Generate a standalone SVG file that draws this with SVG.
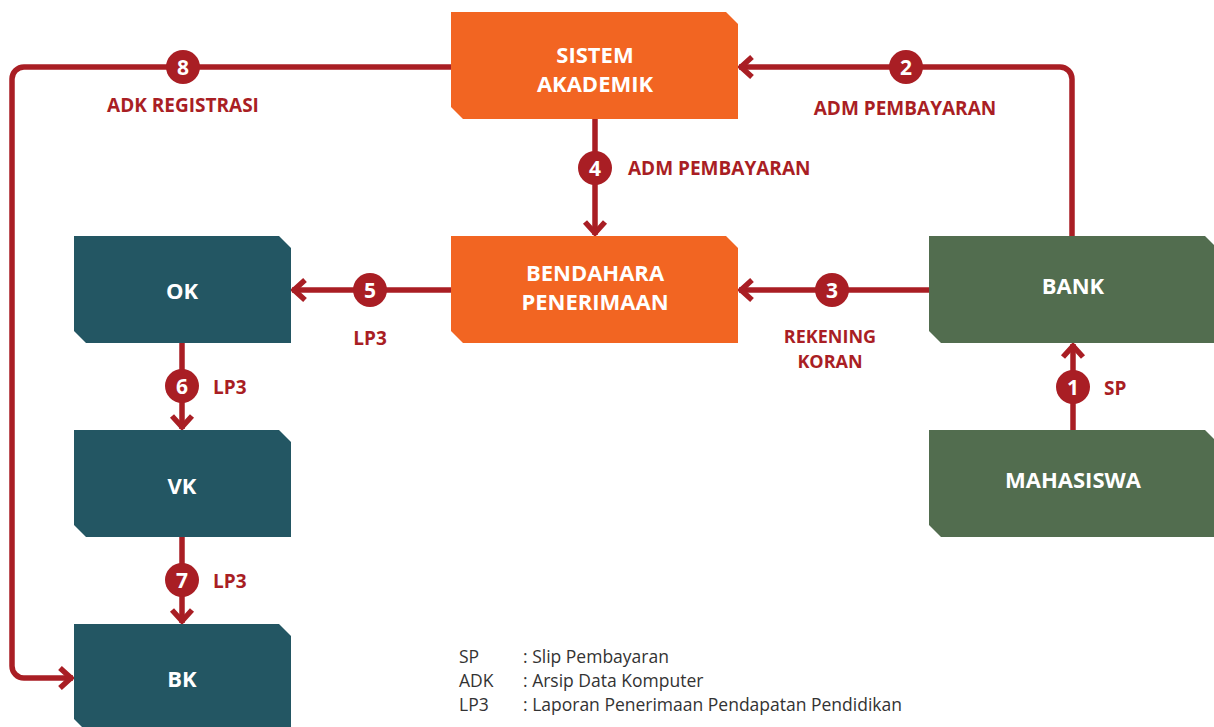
<svg xmlns="http://www.w3.org/2000/svg" width="1214" height="727" viewBox="0 0 1214 727">
  <style>
    .orange { fill: #f26522; }
    .teal { fill: #235663; }
    .green { fill: #526d4f; }
    .ntext { font-family: "Open Sans", "Noto Sans", sans-serif; font-weight: 700; font-size: 22px; fill: #ffffff; text-anchor: middle; }
    .wire { fill: none; stroke: #a91e24; stroke-width: 5.5; }
    .badge { fill: #a91e24; }
    .num { font-family: "Open Sans", "Noto Sans", sans-serif; font-weight: 700; font-size: 21px; fill: #ffffff; text-anchor: middle; }
    .lbl { font-family: "Open Sans", "Noto Sans", sans-serif; font-weight: 700; font-size: 19px; fill: #a91e24; }
    .lbl-sm { font-size: 18px; }
    .legend { font-family: "Open Sans", "Noto Sans", sans-serif; font-size: 17.5px; fill: #333333; }
  </style>
  <defs>
    <marker id="chev" markerUnits="userSpaceOnUse" markerWidth="30" markerHeight="30" viewBox="-20 -15 30 30" refX="0" refY="0" orient="auto" overflow="visible">
      <path d="M-13,-10 L-2,0 L-13,10" fill="none" stroke="#a91e24" stroke-width="5.5"/>
    </marker>
  </defs>

  <rect width="1214" height="727" fill="#ffffff"/>

  <!-- connectors -->
  <g id="connectors">
    <path class="wire" d="M451,67 H24 A12,12 0 0 0 12,79 V666 A12,12 0 0 0 24,678 H73" marker-end="url(#chev)"/>
    <path class="wire" d="M1072,236 V79 A12,12 0 0 0 1060,67 H739" marker-end="url(#chev)"/>
    <path class="wire" d="M595,119 V235" marker-end="url(#chev)"/>
    <path class="wire" d="M929,290 H739" marker-end="url(#chev)"/>
    <path class="wire" d="M451,290 H292" marker-end="url(#chev)"/>
    <path class="wire" d="M182,343 V429" marker-end="url(#chev)"/>
    <path class="wire" d="M182,537 V623" marker-end="url(#chev)"/>
    <path class="wire" d="M1073,430 V344" marker-end="url(#chev)"/>

    <circle class="badge" cx="183" cy="67" r="17"/><text class="num" x="183" y="74.5">8</text>
    <circle class="badge" cx="906" cy="67" r="17"/><text class="num" x="906" y="74.5">2</text>
    <circle class="badge" cx="595" cy="168" r="17"/><text class="num" x="595" y="175.5">4</text>
    <circle class="badge" cx="832" cy="290" r="17"/><text class="num" x="832" y="297.5">3</text>
    <circle class="badge" cx="370" cy="290" r="17"/><text class="num" x="370" y="297.5">5</text>
    <circle class="badge" cx="182" cy="386" r="17"/><text class="num" x="182" y="393.5">6</text>
    <circle class="badge" cx="182" cy="580" r="17"/><text class="num" x="182" y="587.5">7</text>
    <circle class="badge" cx="1073" cy="387" r="17"/><text class="num" x="1073" y="394.5">1</text>

    <text class="lbl" x="183" y="112" text-anchor="middle">ADK REGISTRASI</text>
    <text class="lbl" x="905" y="115" text-anchor="middle">ADM PEMBAYARAN</text>
    <text class="lbl" x="628" y="175">ADM PEMBAYARAN</text>
    <text class="lbl lbl-sm" x="830" y="343" text-anchor="middle">REKENING</text>
    <text class="lbl lbl-sm" x="830" y="368" text-anchor="middle">KORAN</text>
    <text class="lbl" x="370" y="345" text-anchor="middle">LP3</text>
    <text class="lbl" x="213" y="394">LP3</text>
    <text class="lbl" x="213" y="588">LP3</text>
    <text class="lbl" x="1104" y="395">SP</text>
  </g>

  <!-- nodes: boxes with clipped top-right and bottom-left corners -->
  <g id="sistem-akademik">
    <path class="orange" d="M451,12 H726 L738,24 V119 H463 L451,107 Z"/>
    <text class="ntext" x="595" y="63">SISTEM</text>
    <text class="ntext" x="595" y="92">AKADEMIK</text>
  </g>
  <g id="bendahara-penerimaan">
    <path class="orange" d="M451,236 H726 L738,248 V343 H463 L451,331 Z"/>
    <text class="ntext" x="595" y="281">BENDAHARA</text>
    <text class="ntext" x="595" y="310">PENERIMAAN</text>
  </g>
  <g id="bank">
    <path class="green" d="M929,236 H1205 L1217,248 V343 H941 L929,331 Z"/>
    <text class="ntext" x="1073" y="294">BANK</text>
  </g>
  <g id="mahasiswa">
    <path class="green" d="M929,430 H1205 L1217,442 V537 H941 L929,525 Z"/>
    <text class="ntext" x="1073" y="488">MAHASISWA</text>
  </g>
  <g id="ok">
    <path class="teal" d="M74,236 H279 L291,248 V343 H86 L74,331 Z"/>
    <text class="ntext" x="182" y="299">OK</text>
  </g>
  <g id="vk">
    <path class="teal" d="M74,430 H279 L291,442 V537 H86 L74,525 Z"/>
    <text class="ntext" x="182" y="494">VK</text>
  </g>
  <g id="bk">
    <path class="teal" d="M74,624 H279 L291,636 V731 H86 L74,719 Z"/>
    <text class="ntext" x="182" y="687">BK</text>
  </g>

  <!-- legend -->
  <g id="legend">
    <text class="legend" x="459" y="663">SP</text>
    <text class="legend" x="523" y="663">: Slip Pembayaran</text>
    <text class="legend" x="459" y="687">ADK</text>
    <text class="legend" x="523" y="687">: Arsip Data Komputer</text>
    <text class="legend" x="459" y="711">LP3</text>
    <text class="legend" x="523" y="711">: Laporan Penerimaan Pendapatan Pendidikan</text>
  </g>
</svg>
